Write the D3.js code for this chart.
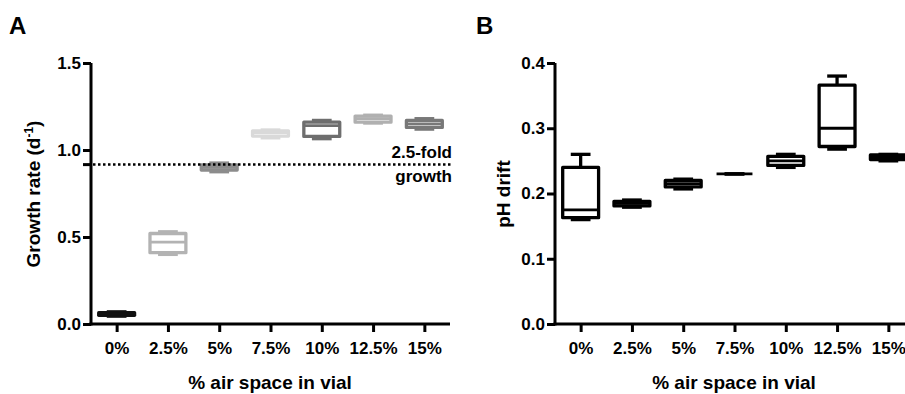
<!DOCTYPE html>
<html>
<head>
<meta charset="utf-8">
<script src="https://cdn.jsdelivr.net/npm/d3@7"></script>
<style>
  body { margin: 0; background: #fff; }
  text { font-family: "Liberation Sans", Arial, sans-serif; font-weight: bold; fill: #000; }
</style>
</head>
<body>
<div class="chart"></div>
<script>
var svgWidth = 905;
var svgHeight = 394;

// categories (x axis)
var categories = ["0%", "2.5%", "5%", "7.5%", "10%", "12.5%", "15%"];

// panel A: growth rate box stats
var growthMin = [0.045, 0.40, 0.875, 1.07, 1.065, 1.155, 1.12];
var growthQ1  = [0.050, 0.41, 0.885, 1.08, 1.078, 1.160, 1.13];
var growthMed = [0.057, 0.47, 0.900, 1.10, 1.140, 1.180, 1.15];
var growthQ3  = [0.065, 0.52, 0.915, 1.11, 1.160, 1.195, 1.17];
var growthMax = [0.070, 0.53, 0.925, 1.115, 1.170, 1.200, 1.18];
var growthColors = ["#111111", "#b3b3b3", "#8c8c8c", "#d9d9d9", "#6e6e6e", "#b0b0b0", "#787878"];
var growthTicks = [0, 0.5, 1.0, 1.5];
var foldLine = 0.916;  // ln(2.5)

// panel B: pH drift box stats
var phMin = [0.160, 0.179, 0.207, 0.230, 0.240, 0.268, 0.250];
var phQ1  = [0.163, 0.181, 0.210, 0.230, 0.243, 0.272, 0.252];
var phMed = [0.175, 0.185, 0.215, 0.230, 0.250, 0.300, 0.256];
var phQ3  = [0.240, 0.188, 0.220, 0.230, 0.257, 0.366, 0.259];
var phMax = [0.260, 0.190, 0.222, 0.230, 0.260, 0.380, 0.260];
var phTicks = [0, 0.1, 0.2, 0.3, 0.4];

var svg = d3.select(".chart")
  .append("svg")
  .attr("width", svgWidth)
  .attr("height", svgHeight);

function buildRows(mins, q1s, meds, q3s, maxs) {
  return categories.map(function(c, i) {
    return {cat: c, min: mins[i], q1: q1s[i], med: meds[i], q3: q3s[i], max: maxs[i], i: i};
  });
}

// draws one boxplot panel; returns scales
function drawPanel(opts) {
  var x = d3.scalePoint()
    .domain(categories)
    .range([opts.left, opts.left + 359])
    .padding(0.5);
  var y = d3.scaleLinear()
    .domain(opts.domain)
    .range([324, 63]);

  var g = svg.append("g");

  var boxW = x.step() * 0.7;
  var capW = boxW * 0.55;
  var sw = 3.3;

  var boxes = g.selectAll(".box")
    .data(opts.rows)
    .enter()
    .append("g")
    .attr("class", "box");

  boxes.append("line")
    .attr("x1", d => x(d.cat)).attr("x2", d => x(d.cat))
    .attr("y1", d => y(d.max)).attr("y2", d => y(d.min))
    .attr("stroke", d => opts.color(d))
    .attr("stroke-width", sw);
  boxes.append("line")
    .attr("x1", d => x(d.cat) - capW / 2).attr("x2", d => x(d.cat) + capW / 2)
    .attr("y1", d => y(d.max)).attr("y2", d => y(d.max))
    .attr("stroke", d => opts.color(d))
    .attr("stroke-width", sw);
  boxes.append("line")
    .attr("x1", d => x(d.cat) - capW / 2).attr("x2", d => x(d.cat) + capW / 2)
    .attr("y1", d => y(d.min)).attr("y2", d => y(d.min))
    .attr("stroke", d => opts.color(d))
    .attr("stroke-width", sw);
  boxes.append("rect")
    .attr("x", d => x(d.cat) - boxW / 2)
    .attr("width", boxW)
    .attr("y", d => y(d.q3))
    .attr("height", d => y(d.q1) - y(d.q3))
    .attr("fill", "#fff")
    .attr("stroke", d => opts.color(d))
    .attr("stroke-width", sw)
    .attr("stroke-linejoin", "round");
  boxes.append("line")
    .attr("x1", d => x(d.cat) - boxW / 2).attr("x2", d => x(d.cat) + boxW / 2)
    .attr("y1", d => y(d.med)).attr("y2", d => y(d.med))
    .attr("stroke", d => opts.color(d))
    .attr("stroke-width", 2.8);

  // axes
  var yAxis = g.append("g")
    .attr("transform", `translate(${opts.left}, 0)`)
    .call(d3.axisLeft(y).tickValues(opts.ticks).tickFormat(d3.format(".1f"))
      .tickSize(8).tickSizeOuter(0).tickPadding(2));
  var xAxis = g.append("g")
    .attr("transform", `translate(0, ${y(0)})`)
    .call(d3.axisBottom(x).tickSize(8).tickSizeOuter(0).tickPadding(10));

  [yAxis, xAxis].forEach(function(ax) {
    ax.select(".domain").attr("stroke", "#000").attr("stroke-width", 3);
    ax.selectAll(".tick line").attr("stroke", "#000").attr("stroke-width", 3);
    ax.selectAll(".tick text")
      .attr("font-size", "17px")
      .attr("font-family", "'Liberation Sans', Arial, sans-serif")
      .attr("font-weight", "bold")
      .attr("fill", "#000");
  });
  yAxis.select(".domain").attr("d", `M0,${y(0) + 1.5}V${y(opts.domain[1])}`);
  xAxis.select(".domain").attr("d", `M${opts.left - 1.5},0H${opts.left + 359}`);

  // x title
  g.append("text")
    .attr("x", opts.left + 179)
    .attr("y", 389)
    .attr("text-anchor", "middle")
    .attr("font-size", "19px")
    .text("% air space in vial");

  // panel letter
  g.append("text")
    .attr("x", opts.letterX)
    .attr("y", 34)
    .attr("font-size", "24px")
    .text(opts.letter);

  return {x: x, y: y, g: g};
}

/* Panel A */
var panelA = drawPanel({
  left: 91,
  domain: [0, 1.5],
  ticks: growthTicks,
  rows: buildRows(growthMin, growthQ1, growthMed, growthQ3, growthMax),
  color: d => growthColors[d.i],
  letter: "A",
  letterX: 9
});

// 2.5-fold growth reference line
panelA.g.append("line")
  .attr("x1", 83).attr("x2", 91)
  .attr("y1", panelA.y(foldLine)).attr("y2", panelA.y(foldLine))
  .attr("stroke", "#000").attr("stroke-width", 3);
panelA.g.append("line")
  .attr("x1", 93).attr("x2", 452)
  .attr("y1", panelA.y(foldLine)).attr("y2", panelA.y(foldLine))
  .attr("stroke", "#000").attr("stroke-width", 2.5)
  .attr("stroke-dasharray", "2.5,2.5");
panelA.g.append("text")
  .attr("x", 452).attr("y", 158)
  .attr("text-anchor", "end")
  .attr("font-size", "17px")
  .text("2.5-fold");
panelA.g.append("text")
  .attr("x", 452).attr("y", 182)
  .attr("text-anchor", "end")
  .attr("font-size", "17px")
  .text("growth");

var yTitleA = panelA.g.append("text")
  .attr("transform", "translate(40, 194) rotate(-90)")
  .attr("text-anchor", "middle")
  .attr("font-size", "19px");
yTitleA.append("tspan").text("Growth rate (d");
yTitleA.append("tspan").attr("font-size", "12px").attr("dy", "-7").text("-1");
yTitleA.append("tspan").attr("dy", "7").text(")");

/* Panel B */
var panelB = drawPanel({
  left: 555,
  domain: [0, 0.4],
  ticks: phTicks,
  rows: buildRows(phMin, phQ1, phMed, phQ3, phMax),
  color: d => "#000",
  letter: "B",
  letterX: 476
});

panelB.g.append("text")
  .attr("transform", "translate(510, 194) rotate(-90)")
  .attr("text-anchor", "middle")
  .attr("font-size", "19px")
  .text("pH drift");
</script>
</body>
</html>
